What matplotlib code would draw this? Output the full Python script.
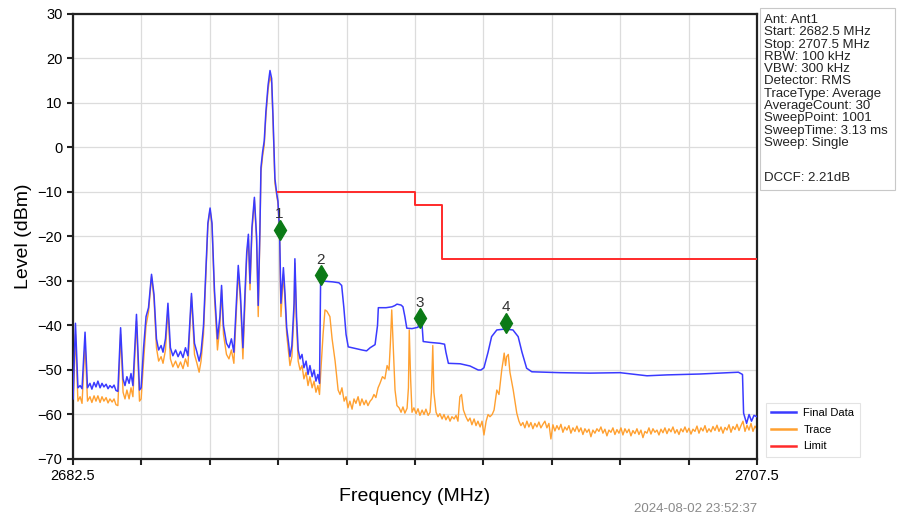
import numpy as np
import matplotlib
matplotlib.use("Agg")
import matplotlib.pyplot as plt
from matplotlib.patches import Rectangle

plt.rcParams['font.family'] = ['Liberation Sans', 'DejaVu Sans']

# Final Data (blue) - frequency MHz / level dBm
final_freq = [
    2682.50, 2682.59, 2682.68, 2682.76, 2682.83, 2682.94, 2683.03, 2683.12, 2683.19, 2683.27,
    2683.34, 2683.41, 2683.49, 2683.56, 2683.63, 2683.71, 2683.78, 2683.85, 2683.93, 2684.00,
    2684.07, 2684.14, 2684.24, 2684.33, 2684.40, 2684.47, 2684.55, 2684.62, 2684.69, 2684.82,
    2684.93, 2684.99, 2685.08, 2685.17, 2685.26, 2685.37, 2685.46, 2685.55, 2685.63, 2685.72,
    2685.79, 2685.88, 2685.97, 2686.06, 2686.15, 2686.25, 2686.34, 2686.43, 2686.52, 2686.61,
    2686.70, 2686.83, 2686.94, 2687.03, 2687.11, 2687.18, 2687.27, 2687.36, 2687.43, 2687.51,
    2687.58, 2687.67, 2687.78, 2687.87, 2687.93, 2688.00, 2688.11, 2688.20, 2688.29, 2688.38,
    2688.46, 2688.54, 2688.62, 2688.71, 2688.79, 2688.85, 2688.91, 2688.97, 2689.04, 2689.13,
    2689.21, 2689.27, 2689.33, 2689.37, 2689.43, 2689.49, 2689.55, 2689.63, 2689.70, 2689.76,
    2689.81, 2689.88, 2689.95, 2689.99, 2690.05, 2690.10, 2690.19, 2690.25, 2690.31, 2690.38,
    2690.43, 2690.50, 2690.58, 2690.61, 2690.67, 2690.73, 2690.80, 2690.87, 2690.94, 2691.02,
    2691.09, 2691.16, 2691.24, 2691.31, 2691.38, 2691.45, 2691.51, 2691.55, 2691.60, 2692.00,
    2692.22, 2692.32, 2692.40, 2692.48, 2692.56, 2692.84, 2693.06, 2693.23, 2693.36, 2693.54,
    2693.63, 2693.66, 2693.94, 2694.16, 2694.27, 2694.34, 2694.49, 2694.56, 2694.63, 2694.70,
    2694.89, 2695.11, 2695.18, 2695.26, 2695.30, 2695.55, 2695.91, 2696.08, 2696.13, 2696.22,
    2696.65, 2697.01, 2697.31, 2697.41, 2697.52, 2697.67, 2697.80, 2697.99, 2698.29, 2698.58,
    2698.77, 2698.91, 2699.08, 2699.27, 2700.30, 2701.40, 2702.49, 2703.48, 2704.21, 2705.42,
    2706.82, 2706.97, 2707.01, 2707.12, 2707.21, 2707.30, 2707.39, 2707.50,
]
final_level = [
    -56.5, -39.5, -54.0, -53.5, -54.2, -41.5, -54.0, -53.0, -54.3, -52.8,
    -53.8, -52.5, -54.0, -53.0, -53.8, -53.2, -54.2, -53.5, -54.0, -53.4,
    -54.6, -54.8, -40.5, -52.0, -53.5, -51.5, -53.0, -50.8, -53.5, -37.5,
    -54.5, -54.0, -45.0, -38.0, -36.0, -28.5, -33.0, -43.0, -45.5, -44.5,
    -46.0, -43.0, -35.0, -45.0, -46.8, -45.5, -47.0, -45.8, -47.2, -45.0,
    -46.8, -32.8, -44.0, -46.0, -48.0, -46.0, -40.0, -27.0, -17.0, -13.6,
    -17.0, -32.0, -43.0, -38.0, -31.0, -40.0, -44.0, -45.0, -43.0, -46.0,
    -36.0, -26.5, -33.0, -45.0, -32.0, -23.5, -19.5, -30.5, -18.0, -11.2,
    -20.0, -35.5, -19.0, -4.5, -1.0, 1.5, 8.0, 14.0, 17.3, 15.5,
    7.0, -7.0, -10.5, -12.0, -18.5, -35.0, -27.0, -33.0, -40.5, -44.0,
    -47.0, -44.5, -35.0, -25.0, -38.0, -45.5, -47.5, -46.5, -49.5, -48.0,
    -51.0, -49.0, -51.5, -50.0, -52.5, -51.0, -53.0, -30.0, -30.0, -30.2,
    -30.4, -31.0, -36.0, -42.0, -44.8, -45.2, -45.5, -45.7, -45.0, -44.3,
    -40.0, -36.0, -36.0, -35.8, -35.5, -35.2, -35.4, -35.8, -38.0, -40.6,
    -40.7, -40.4, -38.5, -40.0, -43.6, -43.8, -44.0, -44.2, -46.0, -48.5,
    -48.6, -49.1, -50.0, -50.0, -49.5, -46.0, -42.5, -41.0, -40.8, -41.0,
    -42.5, -46.0, -49.6, -50.4, -50.6, -50.7, -50.6, -51.3, -51.1, -50.9,
    -50.5, -51.0, -59.7, -62.0, -60.0, -61.5, -60.2, -60.5,
]

# Trace (orange) - explicit points up to 2698.8 MHz
trace_freq = [
    2682.50, 2682.59, 2682.68, 2682.76, 2682.83, 2682.94, 2683.03, 2683.12, 2683.19, 2683.27,
    2683.34, 2683.41, 2683.49, 2683.56, 2683.63, 2683.71, 2683.78, 2683.85, 2683.93, 2684.00,
    2684.07, 2684.14, 2684.24, 2684.33, 2684.40, 2684.47, 2684.55, 2684.62, 2684.69, 2684.82,
    2684.93, 2684.99, 2685.08, 2685.17, 2685.26, 2685.37, 2685.46, 2685.55, 2685.63, 2685.72,
    2685.79, 2685.88, 2685.97, 2686.06, 2686.15, 2686.25, 2686.34, 2686.43, 2686.52, 2686.61,
    2686.70, 2686.83, 2686.94, 2687.03, 2687.11, 2687.18, 2687.27, 2687.36, 2687.43, 2687.51,
    2687.58, 2687.67, 2687.78, 2687.87, 2687.93, 2688.00, 2688.11, 2688.20, 2688.29, 2688.38,
    2688.46, 2688.54, 2688.62, 2688.71, 2688.79, 2688.85, 2688.91, 2688.97, 2689.04, 2689.13,
    2689.21, 2689.27, 2689.33, 2689.37, 2689.43, 2689.49, 2689.55, 2689.63, 2689.70, 2689.76,
    2689.81, 2689.88, 2689.95, 2689.99, 2690.05, 2690.10, 2690.19, 2690.25, 2690.31, 2690.38,
    2690.43, 2690.50, 2690.58, 2690.61, 2690.67, 2690.73, 2690.80, 2690.87, 2690.94, 2691.02,
    2691.09, 2691.16, 2691.24, 2691.31, 2691.38, 2691.45, 2691.51,
    2691.56, 2691.64, 2691.71, 2691.78, 2691.89, 2691.97, 2692.08, 2692.19, 2692.26, 2692.33,
    2692.41, 2692.48, 2692.55, 2692.62, 2692.70, 2692.77, 2692.84, 2692.92, 2692.99, 2693.06,
    2693.14, 2693.21, 2693.28, 2693.36, 2693.43, 2693.50, 2693.57, 2693.65, 2693.72, 2693.81,
    2693.90, 2693.98, 2694.05, 2694.10, 2694.15, 2694.20, 2694.27, 2694.34, 2694.42, 2694.49,
    2694.56, 2694.63, 2694.71, 2694.76, 2694.79, 2694.84, 2694.89, 2694.96, 2695.04, 2695.11,
    2695.18, 2695.26, 2695.33, 2695.40, 2695.48, 2695.55, 2695.60, 2695.65, 2695.69, 2695.77,
    2695.84, 2695.91, 2695.99, 2696.06, 2696.13, 2696.21, 2696.28, 2696.35, 2696.43, 2696.50,
    2696.57, 2696.64, 2696.70, 2696.77, 2696.86, 2696.94, 2697.01, 2697.08, 2697.16, 2697.23,
    2697.30, 2697.38, 2697.45, 2697.52, 2697.60, 2697.67, 2697.74, 2697.82, 2697.89, 2697.99,
    2698.07, 2698.17, 2698.22, 2698.26, 2698.31, 2698.35, 2698.41, 2698.47, 2698.59, 2698.72,
    2698.80,
]
trace_level = [
    -58.5, -42.0, -57.0, -56.0, -57.5, -44.0, -57.0, -56.0, -57.3, -55.8,
    -57.0, -55.8, -57.3, -56.0, -57.0, -56.2, -57.4, -56.5, -57.2, -56.5,
    -57.8, -58.0, -42.0, -55.0, -56.5, -54.5, -56.5, -54.0, -56.0, -39.0,
    -57.0, -56.5, -48.0, -40.0, -37.0, -29.0, -34.0, -45.0, -48.0, -47.0,
    -48.5, -45.5, -36.5, -47.5, -49.3, -48.0, -49.5, -48.2, -49.7, -47.5,
    -49.2, -33.5, -46.5, -48.5, -50.5, -48.0, -42.0, -28.0, -17.5, -14.0,
    -17.5, -33.5, -45.5, -40.0, -32.0, -42.0, -46.5, -47.5, -45.5, -48.5,
    -38.0, -28.0, -34.5, -47.5, -34.0, -24.5, -20.5, -32.0, -19.0, -11.8,
    -21.0, -38.0, -20.0, -5.5, -2.0, 0.5, 7.0, 13.0, 16.0, 14.5,
    6.0, -8.0, -11.0, -12.5, -19.5, -38.0, -28.5, -34.5, -42.0, -46.0,
    -49.0, -47.0, -37.0, -26.0, -40.0, -48.0, -50.0, -49.0, -52.0, -50.5,
    -53.5, -51.5, -54.0, -52.5, -55.0, -53.5, -55.5,
    -50.0, -42.0, -36.5, -36.8, -38.0, -43.0, -48.0, -54.5, -55.5, -54.0,
    -57.0, -56.0, -58.5, -57.0, -58.8, -56.5, -57.5, -56.0, -58.0, -56.5,
    -57.8, -56.8, -58.0, -57.0, -56.5, -55.5, -56.2, -54.0, -53.0, -51.5,
    -52.0, -49.0, -50.0, -44.0, -36.5, -44.0, -54.5, -58.0, -58.5, -59.5,
    -58.3, -59.7, -58.6, -54.0, -41.0, -52.0, -59.5, -58.5, -59.8, -58.7,
    -60.2, -59.0, -60.0, -58.8, -60.2, -59.5, -55.0, -44.5, -55.0, -59.5,
    -60.5, -59.8, -61.0, -60.0, -61.2, -60.3, -61.5, -60.5, -61.0, -60.2,
    -61.5, -56.0, -55.5, -59.0, -60.5, -61.5, -60.8, -62.3, -61.0, -62.5,
    -61.5, -62.8, -61.5, -64.6, -61.5, -60.0, -60.5, -60.0, -59.0, -54.5,
    -55.5, -50.0, -48.0, -46.2, -49.0, -47.0, -46.5, -50.5, -54.5, -59.7,
    -61.5,
]

# Trace noise floor, 2698.87 .. 2707.5 MHz
trace_noise_start = 2698.87
trace_noise_stop = 2707.50
trace_noise_level = [
    -62.5, -61.8, -63.0, -61.5, -62.8, -61.8, -63.2, -62.0, -62.8, -61.7,
    -63.0, -62.2, -61.5, -63.0, -62.0, -65.5, -62.3, -63.7, -62.5, -63.4,
    -62.2, -64.0, -62.8, -63.5, -62.5, -64.2, -63.0, -63.8, -62.6, -63.9,
    -63.0, -64.5, -63.2, -64.0, -63.3, -65.0, -63.5, -64.2, -63.2, -63.8,
    -62.8, -64.2, -63.3, -64.8, -63.5, -64.0, -63.0, -64.5, -63.4, -64.2,
    -63.0, -64.6, -63.2, -64.1, -63.3, -64.8, -63.6, -64.3, -63.2, -64.5,
    -63.5, -65.2, -63.8, -64.2, -63.0, -64.4, -63.2, -64.0, -63.5, -64.6,
    -63.3, -64.1, -63.0, -64.3, -63.2, -63.9, -62.8, -64.2, -63.4, -64.5,
    -63.2, -63.9, -62.8, -64.0, -63.1, -64.4, -63.3, -63.8, -62.6, -64.2,
    -63.0, -63.7, -62.5, -64.0, -63.2, -63.9, -62.7, -63.6, -62.4, -63.8,
    -62.8, -64.2, -62.9, -63.5, -62.3, -64.0, -62.7, -63.4, -62.2, -63.6,
    -62.5, -61.5, -63.8, -62.4, -63.5, -62.0, -63.8, -62.6, -63.3,
]

limit_freq = [2690.0, 2695.0, 2695.0, 2696.0, 2696.0, 2707.5]
limit_level = [-10, -10, -13, -13, -25, -25]

marker_freq = [2690.05, 2691.56, 2695.18, 2698.33]
marker_level = [-18.5, -28.7, -38.4, -39.4]
marker_names = ['1', '2', '3', '4']

info_lines = [
    'Ant: Ant1', 'Start: 2682.5 MHz', 'Stop: 2707.5 MHz', 'RBW: 100 kHz',
    'VBW: 300 kHz', 'Detector: RMS', 'TraceType: Average', 'AverageCount: 30',
    'SweepPoint: 1001', 'SweepTime: 3.13 ms', 'Sweep: Single',
]
dccf_text = 'DCCF: 2.21dB'
timestamp = '2024-08-02 23:52:37'

W, H = 897, 514
fig = plt.figure(figsize=(W / 100, H / 100), dpi=100)
ax = fig.add_axes([73 / W, 1 - 459 / H, (757 - 73) / W, (459 - 14) / H])

noise_freq = np.linspace(trace_noise_start, trace_noise_stop, len(trace_noise_level))
all_trace_freq = list(trace_freq) + list(noise_freq)
all_trace_level = list(trace_level) + list(trace_noise_level)

l_trace, = ax.plot(all_trace_freq, all_trace_level, color='#ffa030', lw=1.0, zorder=2)
l_final, = ax.plot(final_freq, final_level, color='#3a3aff', lw=1.1, zorder=3)
l_limit, = ax.plot(limit_freq, limit_level, color='#ff2a2a', lw=1.4, zorder=3)

ax.plot(marker_freq, marker_level, linestyle='none', marker='d', markersize=10,
        color='#0b7a16', zorder=5)
for f, lv, name in zip(marker_freq, marker_level, marker_names):
    ax.annotate(name, (f, lv), xytext=(0, 6), textcoords='offset points',
                ha='center', va='bottom', fontsize=11, color='#333333', zorder=6)

ax.set_xlim(2682.5, 2707.5)
ax.set_ylim(-70, 30)
xt = np.linspace(2682.5, 2707.5, 11)
ax.set_xticks(xt)
ax.set_xticklabels(['2682.5'] + [''] * 9 + ['2707.5'], fontsize=10.5)
ax.set_yticks(np.arange(-70, 31, 10))
ax.tick_params(axis='y', labelsize=10.5)
ax.tick_params(direction='out', length=4, width=1.5, color='#222222')
ax.grid(True, color='#dcdcdc', lw=0.9)
ax.set_axisbelow(True)
for s in ax.spines.values():
    s.set_linewidth(1.6)
    s.set_color('#222222')

ax.set_xlabel('Frequency (MHz)', fontsize=14, labelpad=3)
ax.set_ylabel('Level (dBm)', fontsize=14, labelpad=4)

# info box at top right
fig.add_artist(Rectangle((760 / W, 1 - 190 / H), (895 - 760) / W, (190 - 8) / H,
                         transform=fig.transFigure, fill=False, edgecolor='#c8c8c8', lw=0.8))
for i, line in enumerate(info_lines):
    fig.text(764 / W, 1 - (20 + 12.3 * i) / H, line, fontsize=9.5, va='center',
             ha='left', color='#222222')
fig.text(764 / W, 1 - 178 / H, dccf_text, fontsize=9.5, va='center', ha='left', color='#222222')

leg = ax.legend([l_final, l_trace, l_limit], ['Final Data', 'Trace', 'Limit'],
                loc='upper left', bbox_to_anchor=(760 / W, 1 - 397 / H),
                bbox_transform=fig.transFigure, fontsize=8, frameon=True,
                fancybox=False, edgecolor='#dddddd', handlelength=2.2,
                labelspacing=0.6, borderpad=0.5, handletextpad=0.7)
leg.get_frame().set_linewidth(0.8)
for h in leg.get_lines():
    h.set_linewidth(1.8)

fig.text(757 / W, 1 - 509 / H, timestamp, fontsize=9.5, color='#8a8a8a',
         ha='right', va='center')

fig.savefig('out.png', dpi=100)
